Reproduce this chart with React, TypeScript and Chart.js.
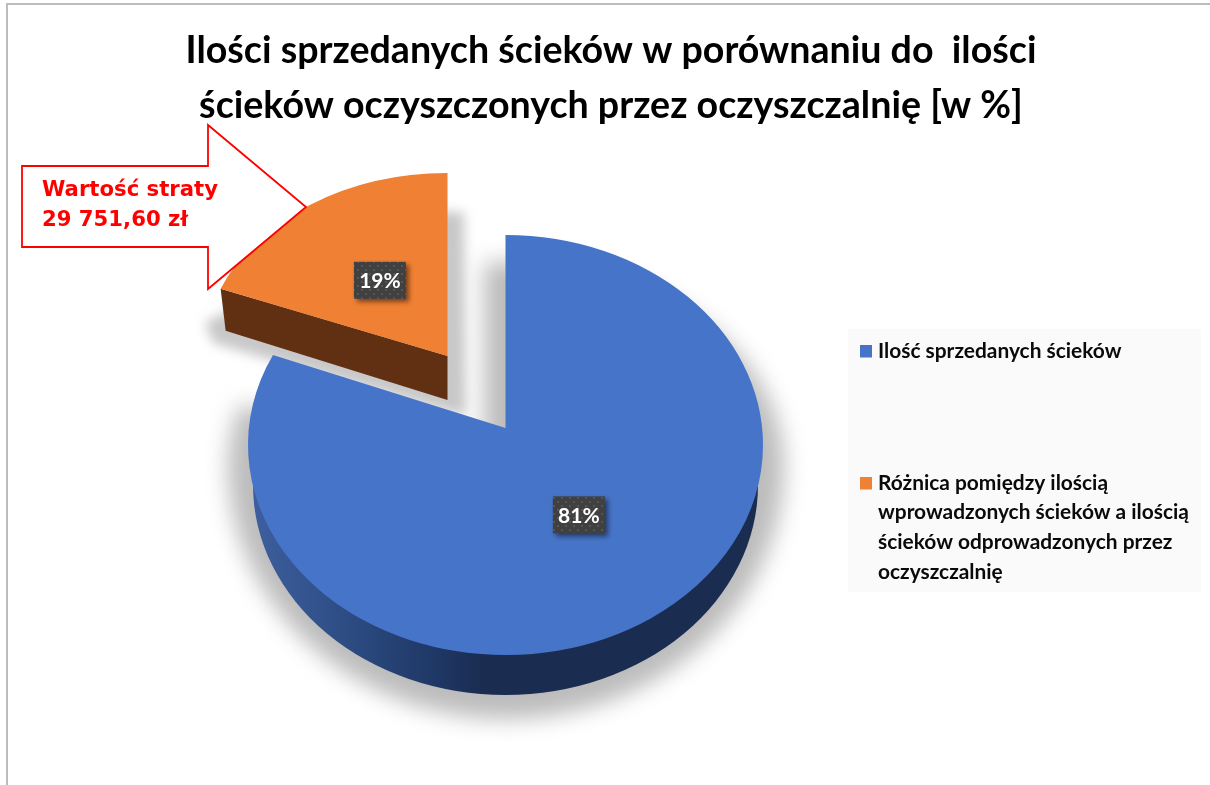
import React, { useEffect, useRef } from "react";
import { Chart, registerables } from "chart.js";

Chart.register(...registerables);

const categories = [
  "Ilość sprzedanych ścieków",
  "Różnica pomiędzy ilością wprowadzonych ścieków a ilością ścieków odprowadzonych przez oczyszczalnię",
];
const shares = [81, 19];
const sliceColors = ["#4674C8", "#F08033"];
const titleLines = [
  "Ilości sprzedanych ścieków w porównaniu do  ilości",
  "ścieków oczyszczonych przez oczyszczalnię [w %]",
];
const legendLines = [
  ["Ilość sprzedanych ścieków"],
  ["Różnica pomiędzy ilością", "wprowadzonych ścieków a ilością", "ścieków odprowadzonych przez", "oczyszczalnię"],
];
const calloutLines = ["Wartość straty", "29 751,60 zł"];

const W = 1210;
const H = 785;
// Projection of each pie slice on the page (tilted, with the small slice pulled out).
const BLUE = { cx: 505.5, cy: 445, rx: 257.5, ry: 210, apexY: 428, depth: 40 };
const ORANGE = { ax: 447.5, ay: 356, rx: 244, ry: 183, depth: 44 };

function dotPattern(ctx: CanvasRenderingContext2D) {
  const c = document.createElement("canvas");
  c.width = 8;
  c.height = 8;
  const p = c.getContext("2d")!;
  p.fillStyle = "#404040";
  p.fillRect(0, 0, 8, 8);
  p.fillStyle = "#555555";
  p.fillRect(1, 1, 2, 2);
  p.fillRect(5, 5, 2, 2);
  return ctx.createPattern(c, "repeat")!;
}

function drawArc(ctx: CanvasRenderingContext2D, el: any, ax: number, ay: number, sx: number, sy: number) {
  ctx.save();
  ctx.translate(ax, ay);
  ctx.scale(sx, sy);
  ctx.translate(-el.x, -el.y);
  el.draw(ctx);
  ctx.restore();
}

const scene = {
  id: "scene",
  beforeDraw(chart: any) {
    const ctx: CanvasRenderingContext2D = chart.ctx;
    ctx.save();
    ctx.fillStyle = "#ffffff";
    ctx.fillRect(0, 0, W, H);
    ctx.fillStyle = "#bcbcbc";
    ctx.fillRect(6, 3, W - 6, 2);
    ctx.fillRect(6, 3, 2, H - 3);
    ctx.restore();
  },
  beforeDatasetsDraw(chart: any) {
    const ctx: CanvasRenderingContext2D = chart.ctx;
    const [blue, orange] = chart.getDatasetMeta(0).data;
    const r = blue.outerRadius;

    // soft shadow cast by the big slice (also visible inside its notch)
    ctx.save();
    (ctx as any).filter = "blur(11px)";
    ctx.fillStyle = "#bcbcbc";
    ctx.beginPath();
    ctx.moveTo(484, 450);
    ctx.lineTo(484, 262);
    ctx.ellipse(506, 465, 278, 203, 0, -Math.PI / 2 - 0.08, 0);
    ctx.ellipse(506, 465, 278, 254, 0, 0, Math.PI);
    ctx.ellipse(506, 465, 278, 203, 0, Math.PI, Math.PI + 0.3);
    ctx.closePath();
    ctx.fill();
    ctx.restore();

    // shadow of the pulled-out slice
    ctx.save();
    (ctx as any).filter = "blur(6px)";
    ctx.fillStyle = "#c8c8c8";
    ctx.beginPath();
    ctx.moveTo(440, 212);
    ctx.lineTo(464, 212);
    ctx.lineTo(466, 416);
    ctx.lineTo(447, 412);
    ctx.lineTo(213, 343);
    ctx.lineTo(205, 322);
    ctx.closePath();
    ctx.fill();
    ctx.restore();

    // blue wall
    ctx.save();
    const g = ctx.createLinearGradient(BLUE.cx - BLUE.rx, 0, BLUE.cx + BLUE.rx, 0);
    g.addColorStop(0, "#3f5f9f");
    g.addColorStop(0.16, "#2f5088");
    g.addColorStop(0.36, "#1f3866");
    g.addColorStop(0.46, "#1a2c50");
    g.addColorStop(1, "#1a2c50");
    ctx.fillStyle = g;
    ctx.beginPath();
    ctx.ellipse(BLUE.cx, BLUE.cy + BLUE.depth, BLUE.rx - 5, BLUE.ry, 0, 0, Math.PI);
    ctx.closePath();
    ctx.fill();
    ctx.restore();

    // blue top face, with the perspective-raised tip of the notch
    drawArc(ctx, blue, BLUE.cx, BLUE.cy, BLUE.rx / r, BLUE.ry / r);
    const ex = BLUE.cx + Math.cos(blue.endAngle) * BLUE.rx;
    const ey = BLUE.cy + Math.sin(blue.endAngle) * BLUE.ry;
    ctx.save();
    ctx.fillStyle = sliceColors[0];
    ctx.beginPath();
    ctx.moveTo(BLUE.cx, BLUE.apexY);
    ctx.lineTo(BLUE.cx + 3, BLUE.apexY + 3);
    ctx.lineTo(BLUE.cx + 3, BLUE.cy + 4);
    ctx.lineTo(ex + 2, ey + 4);
    ctx.lineTo(ex, ey);
    ctx.lineTo(273, 355);
    ctx.closePath();
    ctx.fill();
    ctx.restore();

    // orange wall
    const lx = ORANGE.ax + Math.cos(orange.startAngle) * ORANGE.rx;
    const ly = ORANGE.ay + Math.sin(orange.startAngle) * ORANGE.ry;
    ctx.save();
    ctx.fillStyle = "#612F11";
    ctx.beginPath();
    ctx.moveTo(lx, ly);
    ctx.lineTo(lx + 5, ly + 42);
    ctx.lineTo(ORANGE.ax, ORANGE.ay + ORANGE.depth);
    ctx.lineTo(ORANGE.ax, ORANGE.ay);
    ctx.closePath();
    ctx.fill();
    ctx.restore();

    // orange top face
    drawArc(ctx, orange, ORANGE.ax, ORANGE.ay, ORANGE.rx / r, ORANGE.ry / r);

    // callout arrow
    ctx.save();
    ctx.fillStyle = "#ffffff";
    ctx.strokeStyle = "#FF0000";
    ctx.lineWidth = 1.8;
    ctx.lineJoin = "miter";
    ctx.beginPath();
    ctx.moveTo(22, 166);
    ctx.lineTo(208, 166);
    ctx.lineTo(208, 125);
    ctx.lineTo(306, 207);
    ctx.lineTo(208, 289);
    ctx.lineTo(208, 247);
    ctx.lineTo(22, 247);
    ctx.closePath();
    ctx.fill();
    ctx.stroke();
    ctx.fillStyle = "#FF0000";
    ctx.font = "bold 21.2px 'DejaVu Sans'";
    ctx.textAlign = "left";
    ctx.textBaseline = "middle";
    calloutLines.forEach((t, i) => ctx.fillText(t, 42, 190 + i * 30));
    ctx.restore();

    // data labels
    const pattern = dotPattern(ctx);
    const places = [
      { ax: BLUE.cx, ay: BLUE.apexY, rx: BLUE.rx, ry: BLUE.ry },
      { ax: ORANGE.ax, ay: ORANGE.ay, rx: ORANGE.rx, ry: ORANGE.ry },
    ];
    [blue, orange].forEach((el: any, i: number) => {
      const c = el.getCenterPoint();
      const p = places[i];
      const x = p.ax + ((c.x - el.x) * p.rx) / r + 1;
      const y = p.ay + ((c.y - el.y) * p.ry) / r;
      ctx.save();
      ctx.shadowColor = "rgba(0,0,0,0.5)";
      ctx.shadowBlur = 5;
      ctx.shadowOffsetX = 3;
      ctx.shadowOffsetY = 3;
      ctx.fillStyle = pattern;
      ctx.fillRect(x - 26, y - 18.5, 52, 37);
      ctx.restore();
      ctx.save();
      ctx.fillStyle = "#ffffff";
      ctx.font = "bold 21px Lato";
      ctx.textAlign = "center";
      ctx.textBaseline = "middle";
      ctx.fillText(`${shares[i]}%`, x, y + 1);
      ctx.restore();
    });
    return false;
  },
  afterDraw(chart: any) {
    const ctx: CanvasRenderingContext2D = chart.ctx;
    ctx.save();
    ctx.fillStyle = "#fafafa";
    ctx.fillRect(848, 329, 353, 263);
    ctx.font = "bold 20.9px Lato";
    ctx.textAlign = "left";
    ctx.textBaseline = "middle";
    const tops = [351, 483];
    legendLines.forEach((lines, i) => {
      ctx.fillStyle = sliceColors[i];
      ctx.fillRect(860, tops[i] - 6, 12, 12.5);
      ctx.fillStyle = "#0a0a0a";
      lines.forEach((t, j) => ctx.fillText(t, 878, tops[i] + j * 29.7));
    });
    ctx.restore();
  },
};

export default function App() {
  const ref = useRef<HTMLCanvasElement>(null);
  useEffect(() => {
    const chart = new Chart(ref.current!, {
      type: "pie",
      data: {
        labels: categories,
        datasets: [{ data: shares, backgroundColor: sliceColors, borderWidth: 0 }],
      },
      options: {
        animation: false,
        responsive: false,
        rotation: 0,
        layout: { padding: { left: 12, top: 24 } },
        plugins: {
          legend: { display: false },
          tooltip: { enabled: false },
          title: {
            display: true,
            text: titleLines,
            color: "#000000",
            font: { family: "Lato", size: 37.6, weight: "bold", lineHeight: 1.45 },
            padding: 0,
          },
        },
      },
      plugins: [scene],
    } as any);
    return () => chart.destroy();
  }, []);
  return (
    <div style={{ position: "absolute", left: 0, top: 0, width: W, height: H, overflow: "hidden" }}>
      <canvas ref={ref} width={W} height={H} style={{ display: "block" }} />
    </div>
  );
}
